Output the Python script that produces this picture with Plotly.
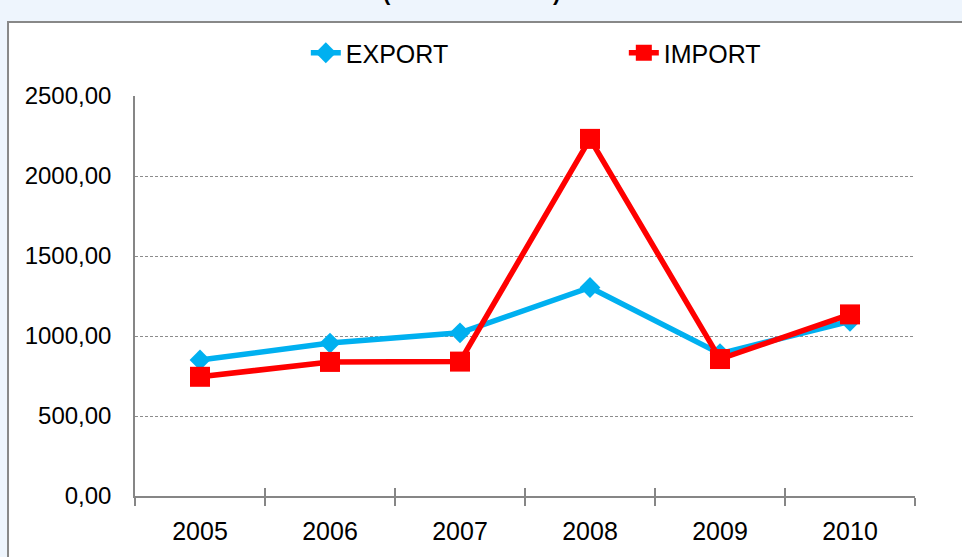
import plotly.graph_objects as go

years = ["2005", "2006", "2007", "2008", "2009", "2010"]
export_values = [850, 956, 1020, 1303, 890, 1092]
import_values = [745, 838, 840, 2232, 856, 1135]
y_ticks = [0, 500, 1000, 1500, 2000, 2500]
grid_values = [500, 1000, 1500, 2000]

EXPORT_COLOR = "#00B0F0"
IMPORT_COLOR = "#FF0000"
AXIS_GREY = "#868686"
FONT = "Liberation Sans, Arial, sans-serif"

fig = go.Figure()

fig.add_trace(
    go.Scatter(
        x=years,
        y=export_values,
        name="EXPORT",
        mode="lines+markers",
        line={"color": EXPORT_COLOR, "width": 5.5},
        marker={"symbol": "diamond", "size": 16, "color": EXPORT_COLOR},
    )
)
fig.add_trace(
    go.Scatter(
        x=years,
        y=import_values,
        name="IMPORT",
        mode="lines+markers",
        line={"color": IMPORT_COLOR, "width": 5.5},
        marker={"symbol": "square", "size": 20, "color": IMPORT_COLOR},
    )
)
# invisible trace so the overlay axes (inside ticks + dashed grid) get drawn
fig.add_trace(
    go.Scatter(
        x=years,
        y=export_values,
        xaxis="x2",
        yaxis="y2",
        mode="lines",
        line={"width": 0},
        opacity=0,
        showlegend=False,
        hoverinfo="skip",
    )
)

fig.update_layout(
    width=962,
    height=557,
    margin={"l": 135, "r": 47, "t": 96, "b": 61},
    paper_bgcolor="#EEF5FD",
    plot_bgcolor="rgba(0,0,0,0)",
    font={"family": FONT, "color": "#000000"},
    separators=",.",
    showlegend=True,
    legend={
        "orientation": "h",
        "x": 0.219,
        "xanchor": "left",
        "y": 1.1075,
        "yanchor": "middle",
        "font": {"size": 25, "family": FONT},
        "bgcolor": "rgba(0,0,0,0)",
        "entrywidth": 273,
        "entrywidthmode": "pixels",
    },
    xaxis={
        "type": "category",
        "categoryorder": "array",
        "categoryarray": years,
        "range": [-0.5, 5.5],
        "showline": True,
        "linecolor": AXIS_GREY,
        "linewidth": 1.5,
        "showgrid": False,
        "zeroline": False,
        "ticks": "outside",
        "tickson": "boundaries",
        "ticklen": 8,
        "tickcolor": AXIS_GREY,
        "tickwidth": 1.5,
        "tickfont": {"size": 25},
        "ticklabelstandoff": 12,
    },
    xaxis2={
        "type": "category",
        "categoryorder": "array",
        "categoryarray": years,
        "range": [-0.5, 5.5],
        "overlaying": "x",
        "showline": False,
        "showgrid": False,
        "zeroline": False,
        "ticks": "inside",
        "tickson": "boundaries",
        "ticklen": 8,
        "tickcolor": AXIS_GREY,
        "tickwidth": 1.5,
        "showticklabels": False,
        "side": "bottom",
    },
    yaxis={
        "range": [0, 2500],
        "tickvals": y_ticks,
        "tickformat": ".2f",
        "showline": True,
        "linecolor": AXIS_GREY,
        "linewidth": 1.5,
        "showgrid": False,
        "zeroline": False,
        "ticks": "",
        "tickfont": {"size": 24},
        "ticklabelstandoff": 17,
    },
    yaxis2={
        "range": [0, 2500],
        "overlaying": "y",
        "tickvals": grid_values,
        "showticklabels": False,
        "showgrid": True,
        "gridcolor": "#8C8C8C",
        "gridwidth": 1,
        "griddash": "3px,2px",
        "zeroline": False,
        "showline": False,
    },
    shapes=[
        {
            "type": "rect",
            "xref": "paper",
            "yref": "paper",
            "x0": -0.1628,
            "x1": 1.1,
            "y0": -0.2,
            "y1": 1.185,
            "fillcolor": "#FFFFFF",
            "line": {"color": "#888888", "width": 2},
            "layer": "below",
        }
    ],
    annotations=[
        {
            "text": "<b>(u milionima KM)</b>",
            "xref": "paper",
            "yref": "paper",
            "x": 0.432,
            "y": 1.2575,
            "xanchor": "center",
            "yanchor": "middle",
            "showarrow": False,
            "font": {"size": 22, "family": FONT, "color": "#000000"},
        }
    ],
)

# drop the default page margin so the figure sits at the window's top-left
fig.write_html(
    "out.html",
    config={"displayModeBar": False},
    post_script="document.body.style.margin='0';document.body.style.overflow='hidden';",
)
